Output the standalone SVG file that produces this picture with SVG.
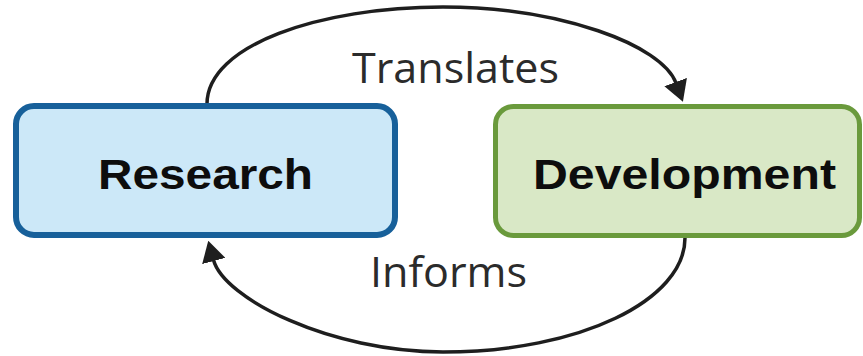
<svg xmlns="http://www.w3.org/2000/svg" width="863" height="356" viewBox="0 0 863 356">
  <style>
    .node-title { font-family: "Liberation Sans", Arial, sans-serif; font-weight: bold; font-size: 43px; fill: #0d0d0d; }
    .edge-label { font-family: "Open Sans", "Noto Sans", sans-serif; font-size: 42px; fill: #2b2b2b; }
    .edge { fill: none; stroke: #1e1e1e; stroke-width: 3.5; }
  </style>
  <defs>
    <marker id="arrow" markerUnits="userSpaceOnUse" viewBox="0 0 21 24" markerWidth="21" markerHeight="24" refX="1" refY="12" orient="auto">
      <path d="M0,0 L21,12 L0,24 Z" fill="#1e1e1e"/>
    </marker>
  </defs>
  <rect width="863" height="356" fill="#ffffff"/>
  <g id="connectors">
    <path class="edge" d="M207,104 C207,45 320,7 443,7 C560,7 662,45 676,83" marker-end="url(#arrow)"/>
    <path class="edge" d="M685,238 C685,300 580,352 443,352 C330,352 224,298.6 213.5,260" marker-end="url(#arrow)"/>
    <text class="edge-label" x="352" y="83" textLength="207" lengthAdjust="spacingAndGlyphs">Translates</text>
    <text class="edge-label" x="370" y="287" textLength="157" lengthAdjust="spacingAndGlyphs">Informs</text>
  </g>
  <g id="research">
    <rect x="16" y="106" width="379" height="129" rx="18" fill="#cce8f8" stroke="#17609a" stroke-width="6"/>
    <text class="node-title" x="98" y="188.5" textLength="215" lengthAdjust="spacingAndGlyphs">Research</text>
  </g>
  <g id="development">
    <rect x="495.5" y="106.5" width="364" height="129" rx="18" fill="#d9e8c6" stroke="#6a9a3c" stroke-width="5"/>
    <text class="node-title" x="533" y="188.5" textLength="303" lengthAdjust="spacingAndGlyphs">Development</text>
  </g>
</svg>
